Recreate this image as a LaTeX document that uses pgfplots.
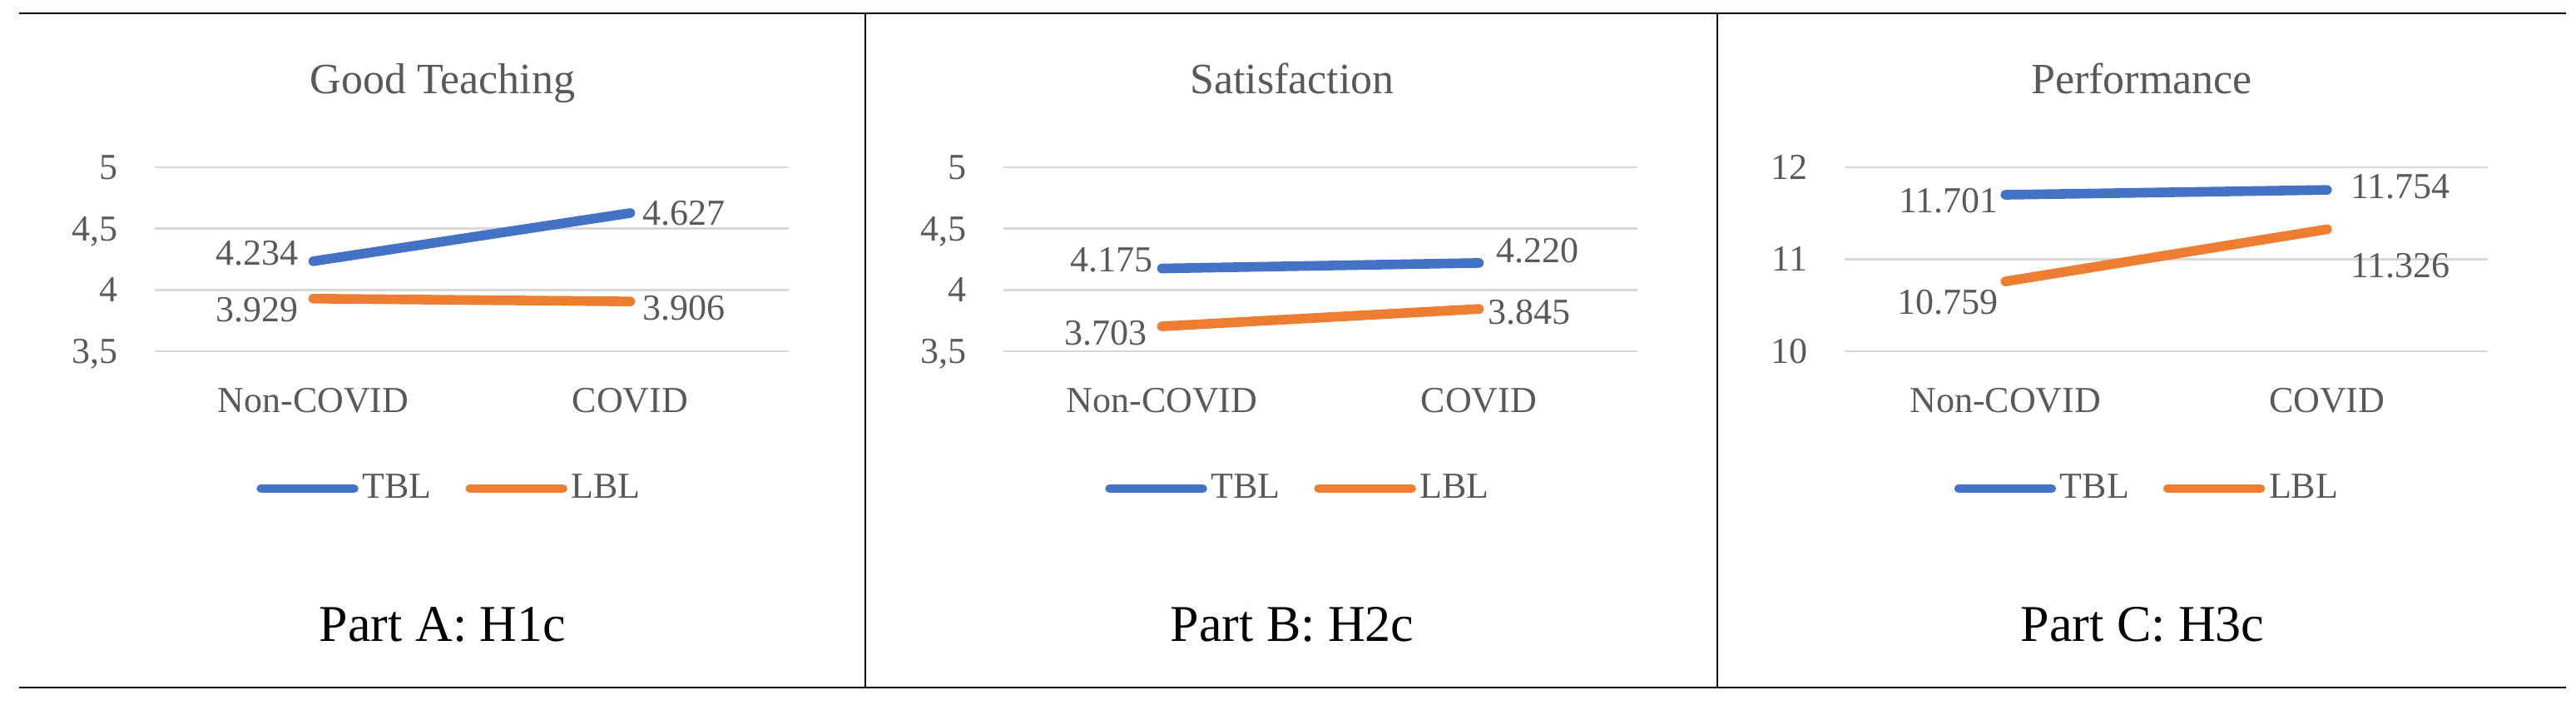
\documentclass[border=0pt]{standalone}
\usepackage{fontspec}
\setmainfont{Liberation Serif}
\usepackage{pgfplots}
\pgfplotsset{compat=1.18}

\definecolor{tbl}{HTML}{4472C4}
\definecolor{lbl}{HTML}{ED7D31}
\definecolor{grd}{HTML}{D9D9D9}
\definecolor{txt}{HTML}{595959}
\newcommand{\fl}{\fontsize{11}{13}\selectfont}
\newcommand{\ft}{\fontsize{13}{15}\selectfont}
\newcommand{\fp}{\fontsize{15.5}{18}\selectfont}

\pgfplotsset{
  panel/.style={
    scale only axis, width=190.5pt, height=55.25pt,
    xmin=-0.5, xmax=1.5, xtick={0,1}, xticklabels={Non-COVID,COVID},
    axis line style={draw=none}, tick style={draw=none}, major tick length=0pt,
    ymajorgrids, grid style={grd, line width=0.7pt},
    tick label style={font=\fl, text=txt, inner sep=0pt},
    xticklabel style={anchor=base, yshift=-18.4pt},
    yticklabel style={anchor=base east, xshift=-11pt, yshift=-3.6pt},
    legend columns=2,
    legend style={draw=none, fill=none, font=\fl, text=txt, anchor=center,
      inner sep=0pt, nodes={inner sep=1.2pt},
      /tikz/every even column/.append style={column sep=9pt}},
    legend image code/.code={\draw[line width=2.6pt, line cap=round] (0pt,0pt) -- (28pt,0pt);},
    clip=false,
  },
  ser/.style={line width=2.9pt, line cap=round, mark=none},
}

% data label: x, y, text, anchor, xshift, yshift
\newcommand{\dlab}[6]{%
  \addplot[draw=none, mark=none, forget plot, nodes near coords, point meta=explicit symbolic,
    every node near coord/.style={anchor=#4, xshift=#5, yshift=#6, inner sep=0pt, font=\fl, text=txt}]
    coordinates {(#1,#2) [#3]};}

\begin{document}
\begin{tikzpicture}
\useasboundingbox (0,0) rectangle (774pt,-213.25pt);
\draw[line width=0.5pt] (5.75pt,-4pt) -- (771pt,-4pt);
\draw[line width=0.5pt] (5.75pt,-206.5pt) -- (771pt,-206.5pt);
\draw[line width=0.5pt] (260pt,-4pt) -- (260pt,-206.5pt);
\draw[line width=0.5pt] (516pt,-4pt) -- (516pt,-206.5pt);

% Part A
\begin{axis}[panel, at={(46.5pt,-50.25pt)}, anchor=north west,
  ymin=3.5, ymax=5, ytick={3.5,4,4.5,5}, yticklabels={{3,5},4,{4,5},5},
  legend style={at={(0.4665,-0.7466)}}]
\addplot[ser, tbl] coordinates {(0,4.234) (1,4.627)};
\addplot[ser, lbl] coordinates {(0,3.929) (1,3.906)};
\legend{TBL,LBL}
\dlab{0}{4.234}{4.234}{east}{-4.25pt}{2.5pt}
\dlab{1}{4.627}{4.627}{west}{3.5pt}{0pt}
\dlab{0}{3.929}{3.929}{east}{-4.25pt}{-3.25pt}
\dlab{1}{3.906}{3.906}{west}{3.5pt}{-2pt}
\end{axis}

% Part B
\begin{axis}[panel, at={(301.5pt,-50.25pt)}, anchor=north west,
  ymin=3.5, ymax=5, ytick={3.5,4,4.5,5}, yticklabels={{3,5},4,{4,5},5},
  legend style={at={(0.4665,-0.7466)}}]
\addplot[ser, tbl] coordinates {(0,4.175) (1,4.220)};
\addplot[ser, lbl] coordinates {(0,3.703) (1,3.845)};
\legend{TBL,LBL}
\dlab{0}{4.175}{4.175}{east}{-2.5pt}{2.5pt}
\dlab{1}{4.220}{4.220}{west}{5pt}{3.75pt}
\dlab{0}{3.703}{3.703}{east}{-4.25pt}{-2pt}
\dlab{1}{3.845}{3.845}{west}{2.5pt}{-1pt}
\end{axis}

% Part C
\begin{axis}[panel, width=193.25pt, at={(554.25pt,-50.25pt)}, anchor=north west,
  ymin=10, ymax=12, ytick={10,11,12}, yticklabels={10,11,12},
  legend style={at={(0.472,-0.7466)}}]
\addplot[ser, tbl] coordinates {(0,11.701) (1,11.754)};
\addplot[ser, lbl] coordinates {(0,10.759) (1,11.326)};
\legend{TBL,LBL}
\dlab{0}{11.701}{11.701}{east}{-2pt}{-1.75pt}
\dlab{1}{11.754}{11.754}{west}{7pt}{1pt}
\dlab{0}{10.759}{10.759}{east}{-2pt}{-6.25pt}
\dlab{1}{11.326}{11.326}{west}{7pt}{-11pt}
\end{axis}

\node[font=\ft, text=txt, anchor=base] at (133pt,-28.25pt) {Good Teaching};
\node[font=\ft, text=txt, anchor=base] at (388.25pt,-28.25pt) {Satisfaction};
\node[font=\ft, text=txt, anchor=base] at (643.5pt,-28.25pt) {Performance};
\node[font=\fp, anchor=base] at (133pt,-192.6pt) {Part A: H1c};
\node[font=\fp, anchor=base] at (388.25pt,-192.6pt) {Part B: H2c};
\node[font=\fp, anchor=base] at (643.75pt,-192.6pt) {Part C: H3c};
\end{tikzpicture}
\end{document}
